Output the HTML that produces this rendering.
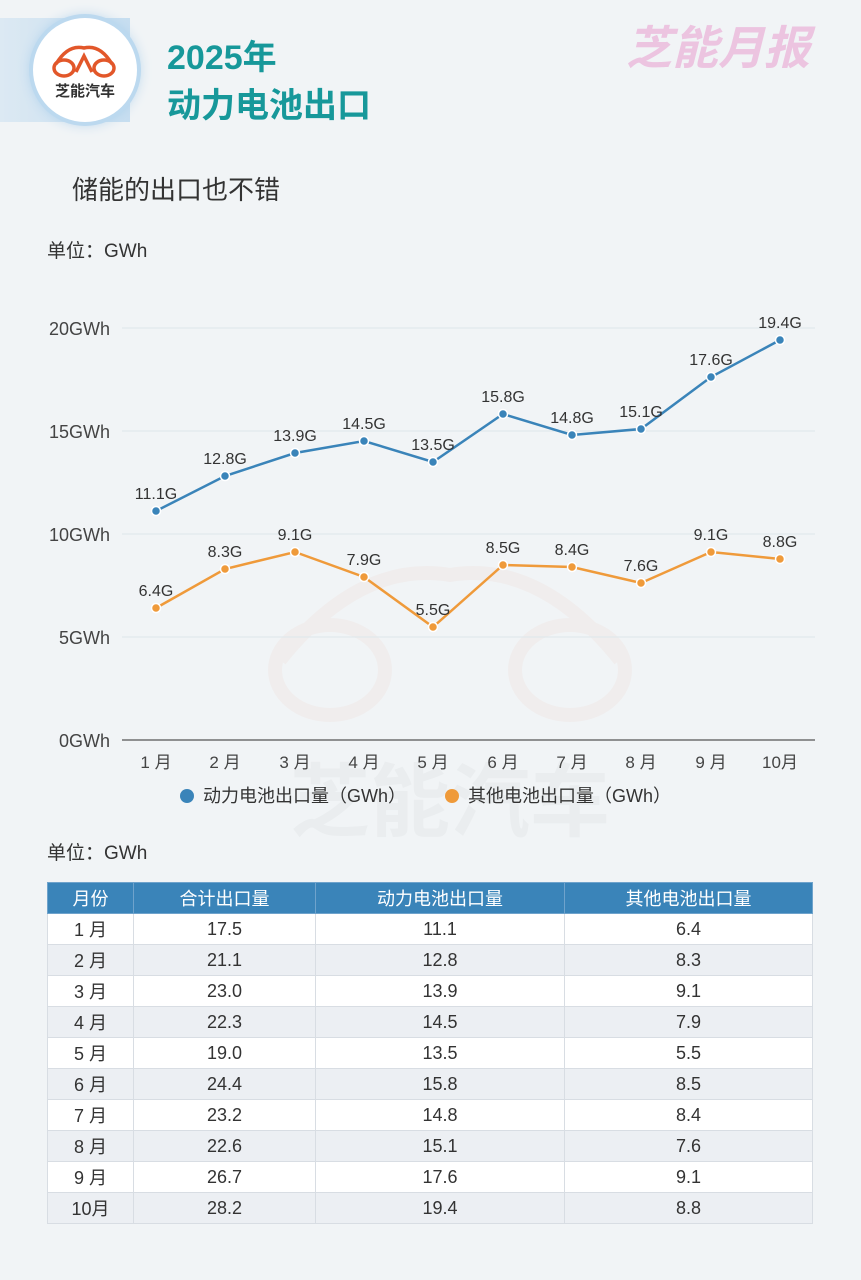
<!DOCTYPE html>
<html><head><meta charset="utf-8">
<style>
*{margin:0;padding:0;box-sizing:border-box}
body{width:861px;height:1280px;background:#f1f4f6;font-family:"Liberation Sans","Noto Sans CJK SC",sans-serif;position:relative;overflow:hidden;color:#333}
.abs{position:absolute}
table{position:absolute;left:47px;top:882px;width:766px;border-collapse:collapse;font-size:18px;color:#333}
td,th{border:1px solid #d8dde3;height:31px;text-align:center;font-weight:normal;padding:0}
th{background:#3a84b9;color:#fff;border-color:#6fa3cc}
tr:nth-child(odd) td{background:#eceff3}
tr:nth-child(even) td{background:#fff}
</style></head><body>
<div class="abs" style="left:0;top:18px;width:130px;height:104px;background:linear-gradient(90deg,#dce9f3,#c7def0)"></div>
<div class="abs" style="left:33px;top:18px;width:104px;height:104px;border-radius:50%;background:#fff;box-shadow:0 0 0 4px #bcd9ef,0 0 14px #9cc7e8"></div>
<svg class="abs" style="left:48px;top:42px" width="72" height="36" viewBox="0 0 72 36"><g fill="none" stroke="#e2572a" stroke-width="3.5"><path d="M8 22 Q20 2 36 6 Q52 2 64 22"/><ellipse cx="16" cy="26" rx="10" ry="8"/><ellipse cx="56" cy="26" rx="10" ry="8"/><path d="M28 30 L36 14 L44 30"/></g></svg>
<div class="abs" style="left:48px;top:80px;width:74px;text-align:center;font-size:15px;font-weight:bold;color:#333">芝能汽车</div>
<div class="abs" style="left:167px;top:30px;font-size:34px;font-weight:bold;color:#17989a">2025年</div>
<div class="abs" style="left:167px;top:78px;font-size:34px;font-weight:bold;color:#17989a">动力电池出口</div>
<div class="abs" style="left:626px;top:12px;font-size:46px;font-weight:bold;font-style:italic;color:#ecc4e0">芝能月报</div>
<div class="abs" style="left:72px;top:170px;font-size:26px;color:#333">储能的出口也不错</div>
<div class="abs" style="left:47px;top:236px;font-size:19px;color:#333">单位：GWh</div>
<div class="abs" style="left:47px;top:838px;font-size:19px;color:#333">单位：GWh</div>
<svg class="abs" style="left:0;top:0" width="861" height="880">
<g opacity="0.04" fill="none" stroke="#e2572a" stroke-width="14"><path d="M280 660 Q360 560 450 575 Q540 560 620 660"/><ellipse cx="330" cy="670" rx="55" ry="45"/><ellipse cx="570" cy="670" rx="55" ry="45"/></g>
<text x="450" y="830" font-size="80" font-weight="bold" fill="#000" opacity="0.025" text-anchor="middle">芝能汽车</text>
<g stroke="#dde6ea" stroke-width="1"><line x1="122" y1="328" x2="815" y2="328"/><line x1="122" y1="431" x2="815" y2="431"/><line x1="122" y1="534" x2="815" y2="534"/><line x1="122" y1="637" x2="815" y2="637"/></g>
<line x1="122" y1="740" x2="815" y2="740" stroke="#555" stroke-width="1.2"/>
<g font-size="18" fill="#444" text-anchor="end"><text x="110" y="335">20GWh</text><text x="110" y="438">15GWh</text><text x="110" y="541">10GWh</text><text x="110" y="644">5GWh</text><text x="110" y="747">0GWh</text></g>
<g font-size="17" fill="#444" text-anchor="middle">
<text x="156" y="768">1 月</text><text x="225" y="768">2 月</text><text x="295" y="768">3 月</text><text x="364" y="768">4 月</text><text x="433" y="768">5 月</text><text x="503" y="768">6 月</text><text x="572" y="768">7 月</text><text x="641" y="768">8 月</text><text x="711" y="768">9 月</text><text x="780" y="768">10月</text></g>
<polyline fill="none" stroke="#3a84b9" stroke-width="2.5" points="156,511 225,476 295,453 364,441 433,462 503,414 572,435 641,429 711,377 780,340"/>
<polyline fill="none" stroke="#ef9a3a" stroke-width="2.5" points="156,608 225,569 295,552 364,577 433,627 503,565 572,567 641,583 711,552 780,559"/>
<g fill="#3a84b9" stroke="#fff" stroke-width="1.5"><circle cx="156" cy="511" r="4.5"/><circle cx="225" cy="476" r="4.5"/><circle cx="295" cy="453" r="4.5"/><circle cx="364" cy="441" r="4.5"/><circle cx="433" cy="462" r="4.5"/><circle cx="503" cy="414" r="4.5"/><circle cx="572" cy="435" r="4.5"/><circle cx="641" cy="429" r="4.5"/><circle cx="711" cy="377" r="4.5"/><circle cx="780" cy="340" r="4.5"/></g>
<g fill="#ef9a3a" stroke="#fff" stroke-width="1.5"><circle cx="156" cy="608" r="4.5"/><circle cx="225" cy="569" r="4.5"/><circle cx="295" cy="552" r="4.5"/><circle cx="364" cy="577" r="4.5"/><circle cx="433" cy="627" r="4.5"/><circle cx="503" cy="565" r="4.5"/><circle cx="572" cy="567" r="4.5"/><circle cx="641" cy="583" r="4.5"/><circle cx="711" cy="552" r="4.5"/><circle cx="780" cy="559" r="4.5"/></g>
<g font-size="16" fill="#333" text-anchor="middle">
<text x="156" y="499">11.1G</text><text x="225" y="464">12.8G</text><text x="295" y="441">13.9G</text><text x="364" y="429">14.5G</text><text x="433" y="450">13.5G</text><text x="503" y="402">15.8G</text><text x="572" y="423">14.8G</text><text x="641" y="417">15.1G</text><text x="711" y="365">17.6G</text><text x="780" y="328">19.4G</text>
<text x="156" y="596">6.4G</text><text x="225" y="557">8.3G</text><text x="295" y="540">9.1G</text><text x="364" y="565">7.9G</text><text x="433" y="615">5.5G</text><text x="503" y="553">8.5G</text><text x="572" y="555">8.4G</text><text x="641" y="571">7.6G</text><text x="711" y="540">9.1G</text><text x="780" y="547">8.8G</text></g>
<circle cx="187" cy="796" r="7" fill="#3a84b9"/><text x="203" y="802" font-size="18" fill="#333">动力电池出口量（GWh）</text>
<circle cx="452" cy="796" r="7" fill="#ef9a3a"/><text x="468" y="802" font-size="18" fill="#333">其他电池出口量（GWh）</text>
</svg>
<table>
<tr><th style="width:86px">月份</th><th style="width:182px">合计出口量</th><th style="width:249px">动力电池出口量</th><th>其他电池出口量</th></tr>
<tr><td>1 月</td><td>17.5</td><td>11.1</td><td>6.4</td></tr>
<tr><td>2 月</td><td>21.1</td><td>12.8</td><td>8.3</td></tr>
<tr><td>3 月</td><td>23.0</td><td>13.9</td><td>9.1</td></tr>
<tr><td>4 月</td><td>22.3</td><td>14.5</td><td>7.9</td></tr>
<tr><td>5 月</td><td>19.0</td><td>13.5</td><td>5.5</td></tr>
<tr><td>6 月</td><td>24.4</td><td>15.8</td><td>8.5</td></tr>
<tr><td>7 月</td><td>23.2</td><td>14.8</td><td>8.4</td></tr>
<tr><td>8 月</td><td>22.6</td><td>15.1</td><td>7.6</td></tr>
<tr><td>9 月</td><td>26.7</td><td>17.6</td><td>9.1</td></tr>
<tr><td>10月</td><td>28.2</td><td>19.4</td><td>8.8</td></tr>
</table>
</body></html>
